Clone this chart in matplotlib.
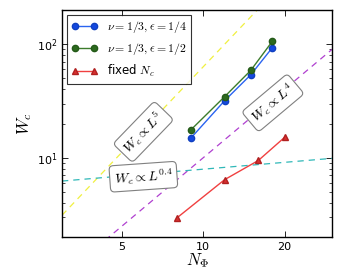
import matplotlib
matplotlib.use('Agg')
import matplotlib.pyplot as plt
from matplotlib.ticker import FixedLocator, FixedFormatter, NullLocator

# data
n_phi_a = [9, 12, 15, 18]
wc_quarter = [14.9, 31.8, 53.8, 92.8]
wc_half = [17.6, 34.5, 58.8, 105.6]

n_phi_fixed = [8, 12, 16, 20]
wc_fixed = [2.96, 6.41, 9.46, 15.1]

# power-law guides W_c = a * N_phi^p  (L^2 ~ N_phi)
guide_prefactor = [0.2, 0.1, 5.0]
guide_power = [2.5, 2.0, 0.2]
guide_colors = ['#f0f040', '#b040d0', '#30b8b8']

x_ticks = [5, 10, 20]
x_ticklabels = ['5', '10', '20']

plt.rcParams['mathtext.fontset'] = 'cm'
plt.rcParams['font.size'] = 8
plt.rcParams['xtick.direction'] = 'in'
plt.rcParams['ytick.direction'] = 'in'
plt.rcParams['xtick.top'] = True
plt.rcParams['ytick.right'] = True

fig = plt.figure(figsize=(3.41, 2.76), dpi=100)
ax = fig.add_axes([0.182, 0.141, 0.792, 0.823])
ax.set_xscale('log')
ax.set_yscale('log')
ax.set_xlim(3, 30)
ax.set_ylim(2, 200)

xs = [3, 30]
for a, p, c in zip(guide_prefactor, guide_power, guide_colors):
    ax.plot(xs, [a * x ** p for x in xs], '--', color=c, lw=0.9, dashes=(5, 4))

ax.plot(n_phi_a, wc_quarter, '-o', color='#2a64f0', mfc='#1448e0', mec='#1040c0',
        ms=4.5, lw=1.0, label=r'$\nu=1/3,\epsilon=1/4$')
ax.plot(n_phi_a, wc_half, '-o', color='#3c7c2c', mfc='#2c6a1e', mec='#245a18',
        ms=4.5, lw=1.0, label=r'$\nu=1/3,\epsilon=1/2$')
ax.plot(n_phi_fixed, wc_fixed, '-^', color='#f04040', mfc='#d83030', mec='#b02020',
        ms=4.5, lw=1.0, label=r'fixed $N_c$')

box = dict(boxstyle='round,pad=0.3', facecolor='white', edgecolor='#808080', lw=0.8)
ax.text(6.0, 16.9, r'$W_c\propto L^5$', fontsize=10, rotation=46,
        ha='center', va='center', bbox=box)
ax.text(18.1, 30.4, r'$W_c\propto L^4$', fontsize=10, rotation=40,
        ha='center', va='center', bbox=box)
ax.text(6.0, 6.8, r'$W_c\propto L^{0.4}$', fontsize=10, rotation=4,
        ha='center', va='center', bbox=box)

ax.xaxis.set_major_locator(FixedLocator(x_ticks))
ax.xaxis.set_major_formatter(FixedFormatter(x_ticklabels))
ax.xaxis.set_minor_locator(NullLocator())
ax.tick_params(which='major', length=4, width=0.6)
ax.tick_params(which='minor', length=2, width=0.5)
for s in ax.spines.values():
    s.set_linewidth(1.0)

ax.set_xlabel(r'$N_\Phi$', fontsize=12, labelpad=0)
ax.set_ylabel(r'$W_c$', fontsize=12, labelpad=2)

leg = ax.legend(loc='upper left', fontsize=8.5, numpoints=2, fancybox=False,
                handlelength=2.2, borderaxespad=0.4, labelspacing=0.5)
leg.get_frame().set_edgecolor('black')
leg.get_frame().set_linewidth(0.8)

fig.savefig('out.png', dpi=100)
